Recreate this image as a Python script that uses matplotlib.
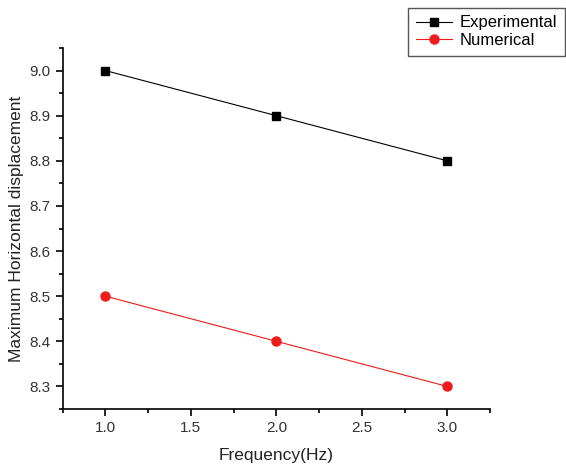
import numpy as np
import matplotlib.pyplot as plt
from matplotlib.ticker import MultipleLocator

plt.rcParams['font.family'] = ['Liberation Sans', 'DejaVu Sans']

freq_hz = [1.0, 2.0, 3.0]
experimental = [9.0, 8.9, 8.8]
numerical = [8.5, 8.4, 8.3]

fig = plt.figure(figsize=(5.66, 4.68), dpi=100)
ax = fig.add_axes([0.1108, 0.1261, 0.7549, 0.7713])

ax.plot(freq_hz, experimental, color='black', linewidth=0.8,
        marker='s', markersize=6, label='Experimental')
ax.plot(freq_hz, numerical, color='#ee1c1c', linewidth=0.8,
        marker='o', markersize=6.5, label='Numerical')

ax.set_xlim(0.75, 3.25)
ax.set_ylim(8.25, 9.05)
ax.xaxis.set_major_locator(MultipleLocator(0.5))
ax.xaxis.set_minor_locator(MultipleLocator(0.25))
ax.yaxis.set_major_locator(MultipleLocator(0.1))
ax.yaxis.set_minor_locator(MultipleLocator(0.05))
ax.xaxis.set_major_formatter(plt.FormatStrFormatter('%.1f'))
ax.yaxis.set_major_formatter(plt.FormatStrFormatter('%.1f'))

for s in ['top', 'right']:
    ax.spines[s].set_visible(False)
for s in ['left', 'bottom']:
    ax.spines[s].set_linewidth(1.2)
ax.tick_params(which='major', direction='out', length=5, width=1.2,
               labelsize=11, labelcolor='#333333', pad=4)
ax.tick_params(which='minor', direction='out', length=3, width=1.2)

ax.set_xlabel('Frequency(Hz)', fontsize=12.5, color='#222222', labelpad=9)
ax.set_ylabel('Maximum Horizontal displacement', fontsize=12.5,
              color='#222222', labelpad=4)

leg = ax.legend(loc='upper left', bbox_to_anchor=(408 / 566, 1 - 8 / 468),
                bbox_transform=fig.transFigure, fancybox=False,
                edgecolor='#555555', fontsize=12, handlelength=2.2,
                borderpad=0.45, labelspacing=0.15, handletextpad=0.45,
                borderaxespad=0, framealpha=1)
leg.get_frame().set_linewidth(1.0)

fig.savefig('out.png', dpi=100)
